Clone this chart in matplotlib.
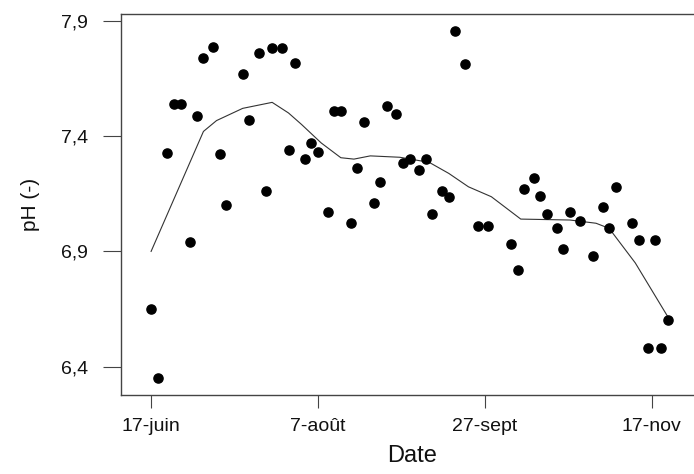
import matplotlib
matplotlib.use("Agg")
import matplotlib.pyplot as plt

plt.rcParams['font.family'] = ['Liberation Sans', 'DejaVu Sans']

# Days since 17-juin and measured pH
days = [0, 2, 5, 7, 9, 12, 14, 16, 19, 21, 23, 28, 30, 33, 35, 37, 40, 42, 44,
        47, 49, 51, 54, 56, 58, 61, 63, 65, 68, 70, 72, 75, 77, 79, 82, 84, 86,
        89, 91, 93, 96, 100, 103, 110, 112, 114, 117, 119, 121, 124, 126, 128,
        131, 135, 138, 140, 142, 147, 149, 152, 154, 156, 158]
ph = [6.652, 6.351, 7.328, 7.538, 7.538, 6.939, 7.488, 7.738, 7.787, 7.321,
      7.100, 7.669, 7.468, 7.761, 7.160, 7.780, 7.780, 7.341, 7.718,
      7.300, 7.371, 7.330, 7.069, 7.510, 7.510, 7.022, 7.260, 7.460, 7.110,
      7.202, 7.530, 7.497, 7.282, 7.300, 7.251, 7.300, 7.062,
      7.162, 7.137, 7.857, 7.711, 7.009, 7.009, 6.932, 6.821, 7.170, 7.217,
      7.141, 7.063, 7.001, 6.910, 7.071,
      7.030, 6.881, 7.092, 7.000, 7.180, 7.022, 6.951, 6.483, 6.951, 6.483, 6.603]

# Smoothed trend line
trend_days = [0, 16, 20, 28, 37, 42, 46, 52, 58, 62, 67, 76, 85, 91, 97, 104,
              113, 128, 136, 140, 148, 158.4]
trend_ph = [6.90, 7.42, 7.467, 7.52, 7.546, 7.50, 7.45, 7.37, 7.306, 7.30,
            7.314, 7.308, 7.286, 7.238, 7.18, 7.137, 7.04, 7.036, 7.022, 7.0,
            6.85, 6.606]

xtick_pos = [0, 51, 102, 153]
xtick_labels = ['17-juin', '7-août', '27-sept', '17-nov']
ytick_pos = [6.4, 6.9, 7.4, 7.9]
ytick_labels = ['6,4', '6,9', '7,4', '7,9']

W, H = 694, 474
fig = plt.figure(figsize=(W / 100, H / 100), dpi=100)
ax = fig.add_axes([121 / W, 1 - 395 / H, (703 - 121) / W, (395 - 14) / H])

ax.plot(trend_days, trend_ph, color='#333333', lw=0.8, zorder=2)
ax.plot(days, ph, 'o', color='black', ms=6.6, mec='black', zorder=3)

ax.set_xlim(-9.2, 168.7)
ax.set_ylim(6.2775, 7.929)

ax.set_xticks(xtick_pos)
ax.set_xticklabels(xtick_labels)
ax.set_yticks(ytick_pos)
ax.set_yticklabels(ytick_labels)

ax.tick_params(axis='x', length=9.5, width=0.8, color='#444444', labelsize=14,
               pad=7, labelcolor='#111111')
ax.tick_params(axis='y', length=13, width=0.8, color='#444444', labelsize=14,
               pad=11, labelcolor='#111111')

for s in ['left', 'top', 'bottom']:
    ax.spines[s].set_color('#444444')
    ax.spines[s].set_linewidth(1.0)
ax.spines['right'].set_visible(False)

ax.set_xlabel('Date', fontsize=17, color='#111111', labelpad=7)
ax.set_ylabel('pH (-)', fontsize=15, color='#111111', labelpad=15)

fig.savefig('out.png', dpi=100)
